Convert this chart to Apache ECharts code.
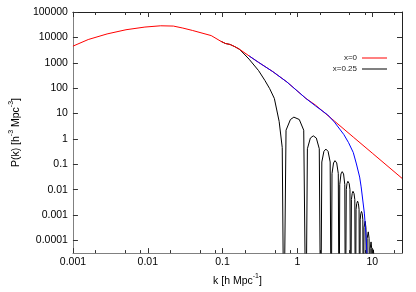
<!DOCTYPE html>
<html><head><meta charset="utf-8">
<script src="https://cdn.jsdelivr.net/npm/echarts@6/dist/echarts.min.js"></script>
<style>html,body{margin:0;padding:0;background:#fff}#c{width:416px;height:292px}</style>
</head><body><div id="c"></div>
<script>
// ---- data (k in h/Mpc, P(k) in (Mpc/h)^3) ----
// low-k part of x=0
const kLow = [0.001, 0.0016, 0.00286, 0.00512, 0.00916, 0.0149, 0.022, 0.0294, 0.0394, 0.0705];
const pLow = [4520, 8220, 13670, 20000, 25500, 28600, 27900, 23300, 18800, 11750];
// BAO-wiggle part shared by x=0 and x=0.25
const kWiggle = [0.0944, 0.109, 0.126, 0.146, 0.169];
const pWiggle = [7060, 5750, 5260, 4290, 3370];
// part shared by red (x=0) and blue curves
const kMid = [0.226, 0.303, 0.469, 0.726, 1.30];
const pMid = [1860, 1033, 447, 174, 39.2];
// x=0 tail
const kRedTail = [1.74, 3.12, 5.58, 10.0, 25];
const pRedTail = [21.6, 5.05, 1.18, 0.276, 0.028];
// blue (unlabelled) tail
const kBlueTail = [1.74, 2.54, 3.12, 4.17, 4.83, 5.58, 6.15, 6.79, 7.11, 7.85, 8.22, 8.51];
const pBlueTail = [20.1, 8.85, 4.61, 1.49, 0.71, 0.291, 0.1026, 0.0313, 0.01285, 0.00119, 0.0002, 0.00003];
// x=0.25 tail (oscillating, dips to ~0 at the zeros)
const kBlackTail = [0.226, 0.303, 0.368, 0.426, 0.492, 0.570, 0.627, 0.659,
  0.705, 0.807, 0.897, 1.06, 1.215, 1.30,
  1.36, 1.49, 1.63, 1.79, 1.96, 2.05,
  2.12, 2.26, 2.40, 2.57, 2.74, 2.83,
  2.90, 3.04, 3.18, 3.35, 3.52, 3.61,
  3.68, 3.82, 3.97, 4.14, 4.30, 4.38,
  4.50, 4.60, 4.73, 4.92, 5.04, 5.16,
  5.27, 5.40, 5.53, 5.71, 5.85, 5.97,
  6.08, 6.21, 6.37, 6.53, 6.67, 6.79,
  6.91, 7.03, 7.19, 7.36, 7.49, 7.62,
  7.77, 8.04, 8.24, 8.39,
  8.55, 8.85, 9.08, 9.25,
  9.40, 9.64, 9.84, 10.0,
  10.14, 10.35, 10.54, 10.7,
  11.04, 11.4];
const pBlackTail = [1387, 489, 200, 95.5, 39.2, 4.91, 0.454, 1e-8,
  2.2, 5.8, 7.2, 5.8, 2.2, 1e-8,
  0.41, 1.08, 1.32, 1.08, 0.41, 1e-8,
  0.123, 0.323, 0.397, 0.323, 0.123, 1e-8,
  0.0429, 0.113, 0.139, 0.113, 0.0429, 1e-8,
  0.0158, 0.0416, 0.0512, 0.0416, 0.0158, 1e-8,
  0.01, 0.0174, 0.0213, 0.0174, 0.01, 1e-8,
  0.0041, 0.0070, 0.0086, 0.0070, 0.0041, 1e-8,
  0.00166, 0.00285, 0.00352, 0.00285, 0.00166, 1e-8,
  0.00065, 0.00112, 0.00138, 0.00112, 0.00065, 1e-8,
  0.00032, 0.000568, 0.00032, 1e-8,
  0.00012, 0.000217, 0.00012, 1e-8,
  0.000049, 0.0000873, 0.000049, 1e-8,
  0.000024, 0.0000428, 0.000024, 1e-8,
  0.000028, 1e-8];

const seriesNames = ['x=0', 'x=0.25'];
const xMajor = [0.001, 0.01, 0.1, 1, 10];
const xMajorLabels = ['0.001', '0.01', '0.1', '1', '10'];
const xMinor = [0.002, 0.005, 0.008, 0.02, 0.05, 0.08, 0.2, 0.5, 0.8, 2, 5, 8, 20];
const yMajor = [1e-4, 1e-3, 0.01, 0.1, 1, 10, 100, 1000, 10000, 100000];
const yMajorLabels = ['0.0001', '0.001', '0.01', '0.1', '1', '10', '100', '1000', '10000', '100000'];

const X_MIN = 0.001, X_MAX = 25, Y_MIN = Math.pow(10, -4.5), Y_MAX = 100000;
const FONT = "'Liberation Sans', Arial, Helvetica, sans-serif";

function zip(ks, ps) { return ks.map((k, i) => [k, ps[i]]); }
function labeler(vals, labels) {
  return function (v) {
    let best = 0, bd = Infinity;
    for (let i = 0; i < vals.length; i++) {
      const d = Math.abs(Math.log10(v) - Math.log10(vals[i]));
      if (d < bd) { bd = d; best = i; }
    }
    return bd < 0.01 ? labels[best] : '';
  };
}

const redData = zip(kLow.concat(kWiggle, kMid, kRedTail), pLow.concat(pWiggle, pMid, pRedTail));
const blueData = zip(kMid.concat(kBlueTail), pMid.concat(pBlueTail));
const blackData = zip(kWiggle.concat(kBlackTail), pWiggle.concat(pBlackTail));

function xAxisDef(pos, ticks, len, labels, line, lineColor, name) {
  const a = {
    type: 'log', logBase: 10, min: X_MIN, max: X_MAX, position: pos, gridIndex: 0,
    splitLine: { show: false }, minorTick: { show: false },
    axisLine: { show: line, onZero: false, lineStyle: { color: lineColor, width: 1 } },
    axisTick: { show: true, inside: true, length: len, customValues: ticks, lineStyle: { color: '#333', width: 1 } },
    axisLabel: { show: labels, customValues: xMajor, formatter: labeler(xMajor, xMajorLabels), fontSize: 10.5, color: '#000', fontFamily: FONT, margin: 4 }
  };
  if (name) {
    a.name = '{a|k [h Mpc}{s|-1}{a|]}';
    a.nameLocation = 'middle';
    a.nameGap = 17;
    a.nameTextStyle = { fontFamily: FONT, fontSize: 10.5, color: '#000',
      rich: { a: { fontFamily: FONT, fontSize: 10.5, color: '#000', verticalAlign: 'bottom' },
              s: { fontFamily: FONT, fontSize: 7, color: '#000', padding: [0, 0, 7, 0], verticalAlign: 'bottom' } } };
  }
  return a;
}
function yAxisDef(pos, labels, lineColor, name) {
  const a = {
    type: 'log', logBase: 10, min: Y_MIN, max: Y_MAX, position: pos, gridIndex: 0,
    splitLine: { show: false }, minorTick: { show: false },
    axisLine: { show: true, onZero: false, lineStyle: { color: lineColor, width: 1 } },
    axisTick: { show: true, inside: true, length: 5, customValues: yMajor, lineStyle: { color: '#333', width: 1 } },
    axisLabel: { show: labels, customValues: yMajor, formatter: labeler(yMajor, yMajorLabels), fontSize: 10.5, color: '#000', fontFamily: FONT, margin: 5 }
  };
  if (name) {
    a.name = '{a|P(k) [h}{s|-3}{a| Mpc}{s|-3}{a|]}';
    a.nameLocation = 'middle';
    a.nameRotate = 90;
    a.nameGap = 43;
    a.nameTextStyle = { fontFamily: FONT, fontSize: 10.5, color: '#000',
      rich: { a: { fontFamily: FONT, fontSize: 10.5, color: '#000', verticalAlign: 'bottom' },
              s: { fontFamily: FONT, fontSize: 7, color: '#000', padding: [0, 0, 7, 0], verticalAlign: 'bottom' } } };
  }
  return a;
}

const chart = echarts.init(document.getElementById('c'), null, { renderer: 'canvas' });
chart.setOption({
  animation: false,
  backgroundColor: '#fff',
  grid: { left: 54, right: 14, top: 12, bottom: 35, containLabel: false },
  xAxis: [
    xAxisDef('bottom', xMajor, 5, true, true, '#808080', true),
    xAxisDef('top', xMajor, 5, false, true, '#222', false),
    xAxisDef('bottom', xMinor, 3, false, false, '#222', false),
    xAxisDef('top', xMinor, 3, false, false, '#222', false)
  ],
  yAxis: [
    yAxisDef('left', true, '#808080', true),
    yAxisDef('right', false, '#222', false)
  ],
  legend: {
    data: seriesNames.map(n => ({ name: n, icon: 'rect' })),
    orient: 'vertical', right: 24, top: 48, align: 'right',
    itemWidth: 25, itemHeight: 1, itemGap: 1,
    textStyle: { fontSize: 8, lineHeight: 10, color: '#222', fontFamily: FONT }
  },
  series: [
    { type: 'line', name: seriesNames[1], data: blackData, symbol: 'none', showSymbol: false,
      lineStyle: { color: '#000', width: 1 }, itemStyle: { color: '#000' }, xAxisIndex: 0, yAxisIndex: 0, clip: true },
    { type: 'line', name: seriesNames[0], data: redData, symbol: 'none', showSymbol: false,
      lineStyle: { color: '#ff0000', width: 1 }, itemStyle: { color: '#ff0000' }, xAxisIndex: 0, yAxisIndex: 0, clip: true },
    { type: 'line', name: 'blue', data: blueData, symbol: 'none', showSymbol: false,
      lineStyle: { color: '#0000ff', width: 1 }, itemStyle: { color: '#0000ff' }, xAxisIndex: 0, yAxisIndex: 0, clip: true }
  ]
});
</script></body></html>
